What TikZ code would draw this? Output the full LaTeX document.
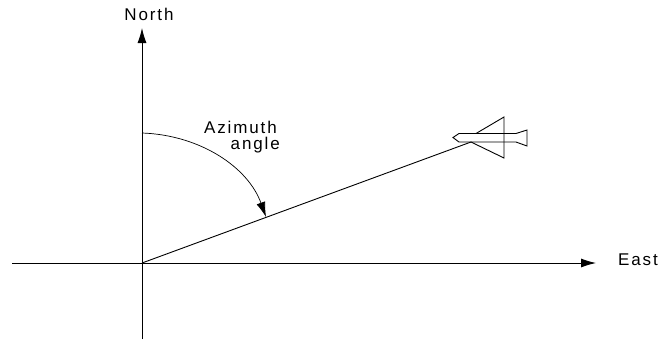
\documentclass[tikz,border=0pt]{standalone}
\usepackage{xcolor}
\usepackage{fontspec}
\setmainfont{Liberation Sans}
\usetikzlibrary{arrows.meta,positioning}
\definecolor{Ink}{HTML}{000000}

\begin{document}
\begin{tikzpicture}[
  x=1pt, y=-1pt,
  axis/.style={-{Latex[length=15pt,width=9pt]}, draw=Ink, line width=0.9pt},
  line/.style={draw=Ink, line width=0.9pt},
  plane/.style={draw=Ink, line width=0.9pt, line join=miter},
  label/.style={text=Ink, font=\fontsize{17}{16}\selectfont\addfontfeatures{LetterSpace=11}, inner sep=0pt}
]
\useasboundingbox (0,0) rectangle (672,341);
\coordinate (origin) at (142,263);
\coordinate (south) at (142,339);
\coordinate (northtip) at (142,28);
\coordinate (west) at (12,263);
\coordinate (easttip) at (596,263);
\coordinate (target) at (471,142);
\coordinate (arcstart) at (142,133);
\coordinate (arcend) at (266,217);
\node[label] (north) at (149,14) {North};
\node[label] (east) at (638,260) {East};
\node[label, align=right, anchor=north east] (azimuth) at (280,120.5) {Azimuth\hspace*{3pt}\\angle};
\draw[axis] (south)--(northtip);
\draw[axis] (west)--(easttip);
\draw[line] (origin)--(target);
\draw[axis, line width=0.7pt] (arcstart) .. controls (200,135) and (248,167) .. (arcend);
% plane
\draw[plane] (453,137.5)--(459,133.5)--(516,133.5)--(527,130)--(527,146)--(516,142)--(459,142)--cycle;
\draw[plane] (476,133.5)--(504,117)--(504,158)--(471,142);
\end{tikzpicture}
\end{document}
